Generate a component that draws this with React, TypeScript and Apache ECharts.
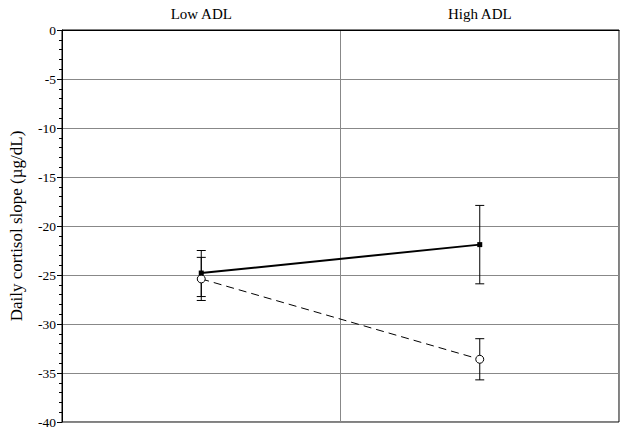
import React, { useEffect, useRef } from "react";
import * as echarts from "echarts";

const categories = ["Low ADL", "High ADL"];
const solidMeans = [-24.8, -21.9];
const solidLow = [-27.2, -25.9];
const solidHigh = [-22.5, -17.9];
const dashedMeans = [-25.4, -33.6];
const dashedLow = [-27.6, -35.7];
const dashedHigh = [-23.2, -31.5];
const yTicks = [0, -5, -10, -15, -20, -25, -30, -35, -40];

const FONT = "Liberation Serif";

function errorSeries(low: number[], high: number[], z: number) {
  return {
    type: "custom",
    z,
    silent: true,
    data: categories.map((_, i) => [i, low[i], high[i]]),
    renderItem: (params: any, api: any) => {
      const x = api.value(0);
      const lo = api.coord([x, api.value(1)]);
      const hi = api.coord([x, api.value(2)]);
      const w = 4.5;
      const st = { stroke: "#000", lineWidth: 1 };
      return {
        type: "group",
        children: [
          { type: "line", shape: { x1: lo[0], y1: lo[1], x2: hi[0], y2: hi[1] }, style: st },
          { type: "line", shape: { x1: lo[0] - w, y1: lo[1], x2: lo[0] + w, y2: lo[1] }, style: st },
          { type: "line", shape: { x1: hi[0] - w, y1: hi[1], x2: hi[0] + w, y2: hi[1] }, style: st },
        ],
      };
    },
  };
}

export default function App() {
  const ref = useRef<HTMLDivElement>(null);
  useEffect(() => {
    if (!ref.current) return;
    const chart = echarts.init(ref.current, null, { renderer: "svg" });
    chart.setOption({
      animation: false,
      backgroundColor: "#fff",
      grid: {
        left: 62,
        right: 7,
        top: 30,
        bottom: 12,
        show: true,
        borderColor: "#000",
        borderWidth: 1,
        backgroundColor: "transparent",
      },
      xAxis: {
        type: "category",
        position: "top",
        data: categories,
        boundaryGap: true,
        axisLine: { show: true, lineStyle: { color: "#000" } },
        axisTick: { show: false },
        axisLabel: { color: "#000", fontFamily: FONT, fontSize: 15, margin: 9 },
        splitLine: { show: true, lineStyle: { color: "#888", width: 1 } },
      },
      yAxis: {
        type: "value",
        min: -40,
        max: 0,
        interval: 5,
        name: "Daily cortisol slope (µg/dL)",
        nameLocation: "middle",
        nameGap: 37,
        nameTextStyle: { color: "#000", fontFamily: FONT, fontSize: 17 },
        axisLine: { show: true, lineStyle: { color: "#000" } },
        axisTick: { show: true, inside: false, length: 5, lineStyle: { color: "#000" } },
        minorTick: { show: true, splitNumber: 5, length: 3, lineStyle: { color: "#000" } },
        axisLabel: {
          color: "#000",
          fontFamily: FONT,
          fontSize: 13.5,
          margin: 6,
          formatter: (v: number) => (yTicks.includes(v) ? String(v) : ""),
        },
        splitLine: { show: true, lineStyle: { color: "#888", width: 1 } },
      },
      series: [
        errorSeries(solidLow, solidHigh, 3),
        errorSeries(dashedLow, dashedHigh, 3),
        {
          type: "line",
          data: dashedMeans,
          z: 4,
          symbol: "circle",
          symbolSize: 8,
          itemStyle: { color: "#fff", borderColor: "#000", borderWidth: 1 },
          lineStyle: { color: "#000", width: 1, type: [8, 5] },
        },
        {
          type: "line",
          data: solidMeans,
          z: 5,
          symbol: "rect",
          symbolSize: 5,
          itemStyle: { color: "#000", borderColor: "#000", borderWidth: 0 },
          lineStyle: { color: "#000", width: 2 },
        },
      ],
    });
    return () => chart.dispose();
  }, []);
  return <div ref={ref} style={{ width: 626, height: 434, position: "absolute", left: 0, top: 0 }} />;
}
